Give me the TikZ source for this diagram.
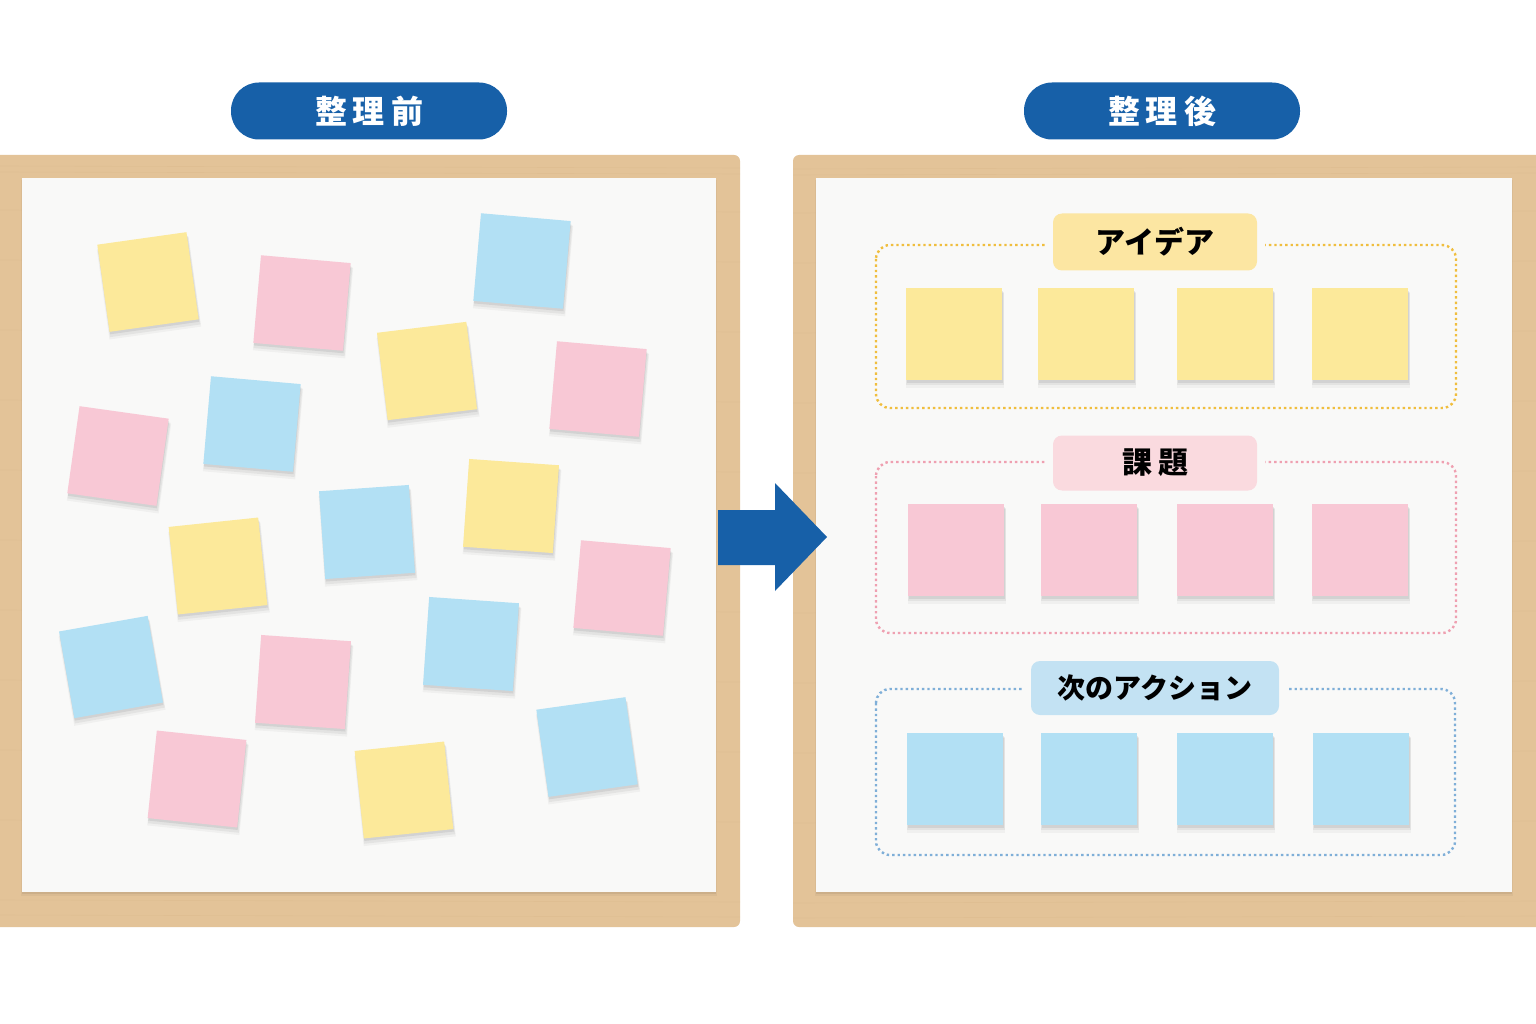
\documentclass[tikz,border=0pt]{standalone}
\usepackage{fontspec}
\newfontfamily\cjk{Noto Sans CJK JP}
\usetikzlibrary{shadows}
\definecolor{wood}{HTML}{E3C398}
\definecolor{woodedge}{HTML}{D6B283}
\definecolor{paper}{HTML}{F9F9F8}
\definecolor{pillblue}{HTML}{1760A8}
\definecolor{noteY}{HTML}{FCE99A}
\definecolor{noteP}{HTML}{F8C8D5}
\definecolor{noteB}{HTML}{B2E0F4}
\definecolor{dotY}{HTML}{F0BE3E}
\definecolor{dotP}{HTML}{EFA0B1}
\definecolor{dotB}{HTML}{7FAFD8}
\definecolor{labY}{HTML}{FCE6A2}
\definecolor{labP}{HTML}{FADADF}
\definecolor{labB}{HTML}{C3E2F3}
\tikzset{
  woodboard/.style={fill=wood, rounded corners=6pt, inner sep=0pt},
  paperboard/.style={fill=paper, inner sep=0pt,
    general shadow={fill=black, opacity=0.06, shadow yshift=-2pt},
    general shadow={fill=black, opacity=0.04, shadow yshift=-3pt, shadow scale=1.004}},
  softshadow/.style={
    general shadow={fill=black, opacity=0.035, shadow xshift=1pt, shadow yshift=-6pt, shadow scale=1.03},
    general shadow={fill=black, opacity=0.05, shadow xshift=1pt, shadow yshift=-4.5pt, shadow scale=1.015},
    general shadow={fill=black, opacity=0.07, shadow xshift=0.5pt, shadow yshift=-2.5pt}},
  note/.style={minimum width=90pt, minimum height=88pt, inner sep=0pt, softshadow},
  gnote/.style={minimum width=96pt, minimum height=92pt, inner sep=0pt, softshadow},
  pill/.style={fill=pillblue, rounded corners=28pt, minimum width=276pt, minimum height=57pt,
    text=white, font=\cjk\bfseries\fontsize{32}{32}\selectfont},
  dotbox/.style={dash pattern=on 2.4pt off 3pt, line width=2.4pt, rounded corners=14pt},
  lab/.style={rounded corners=9pt, minimum height=57pt, inner sep=0pt, text=black,
    font=\cjk\bfseries\fontsize{30}{30}\selectfont,
    preaction={draw=paper, line width=16pt}},
}
\begin{document}
\begin{tikzpicture}[x=1pt,y=-1pt]
\useasboundingbox (0,0) rectangle (1536,1024);
\clip (0,0) rectangle (1536,1024);
\fill[white] (0,0) rectangle (1536,1024);

% boards
\fill[woodboard] (-20,155) rectangle (740,927);
\fill[woodboard] (793,155) rectangle (1556,927);
\foreach \yy in {166,172,210,260,330,400,470,540,610,680,750,820,900,915}{
  \draw[woodedge, opacity=0.25, line width=0.6pt] (0,\yy) -- (740,\yy+2);
  \draw[woodedge, opacity=0.25, line width=0.6pt] (793,\yy+3) -- (1536,\yy+1);
}
\node[paperboard, minimum width=694pt, minimum height=714pt] (leftpaper) at (369,535) {};
\node[paperboard, minimum width=696pt, minimum height=714pt] (rightpaper) at (1164,535) {};

% titles
\node[pill] (tbefore) at (369,111) {整\hspace{6pt}理\hspace{6pt}前};
\node[pill] (tafter) at (1162,111) {整\hspace{6pt}理\hspace{6pt}後};

% arrow
\fill[pillblue] (718,510) -- (775,510) -- (775,483) -- (827,537) -- (775,591) -- (775,565) -- (718,565) -- cycle;

% scattered notes
\node[note, fill=noteY, rotate=8]  (s1)  at (148,282) {};
\node[note, fill=noteP, rotate=-5] (s2)  at (302,303) {};
\node[note, fill=noteB, rotate=-5] (s3)  at (522,261) {};
\node[note, fill=noteY, rotate=7]  (s4)  at (427,371) {};
\node[note, fill=noteP, rotate=-5] (s5)  at (598,389) {};
\node[note, fill=noteB, rotate=-5] (s6)  at (252,424) {};
\node[note, fill=noteP, rotate=-8] (s7)  at (118,456) {};
\node[note, fill=noteY, rotate=-4] (s8)  at (511,506) {};
\node[note, fill=noteB, rotate=4]  (s9)  at (367,532) {};
\node[note, fill=noteY, rotate=6]  (s10) at (218,566) {};
\node[note, fill=noteP, rotate=-5] (s11) at (622,588) {};
\node[note, fill=noteB, rotate=10] (s12) at (111,667) {};
\node[note, fill=noteB, rotate=-4] (s13) at (471,644) {};
\node[note, fill=noteP, rotate=-4] (s14) at (303,682) {};
\node[note, fill=noteP, rotate=-6] (s15) at (197,779) {};
\node[note, fill=noteY, rotate=6]  (s16) at (404,790) {};
\node[note, fill=noteB, rotate=8]  (s17) at (587,747) {};

% groups
\draw[dotbox, draw=dotY] (876,245) rectangle (1456,408);
\draw[dotbox, draw=dotP] (876,462) rectangle (1456,633);
\draw[dotbox, draw=dotB] (876,689) rectangle (1455,855);

\node[lab, fill=labY, minimum width=204pt] (gidea) at (1155,242) {アイデア};
\node[lab, fill=labP, minimum width=204pt, minimum height=55pt] (gissue) at (1155,463) {課\hspace{6pt}題};
\node[lab, fill=labB, minimum width=248pt, minimum height=54pt, font=\cjk\bfseries\fontsize{28}{28}\selectfont] (gaction) at (1155,688) {次のアクション};

\foreach \x [count=\i] in {954,1086,1225,1360}{
  \node[gnote, fill=noteY] (y\i) at (\x,334) {};
}
\foreach \x [count=\i] in {956,1089,1225,1360}{
  \node[gnote, fill=noteP] (p\i) at (\x,550) {};
}
\foreach \x [count=\i] in {955,1089,1225,1361}{
  \node[gnote, fill=noteB] (b\i) at (\x,779) {};
}
\end{tikzpicture}
\end{document}
